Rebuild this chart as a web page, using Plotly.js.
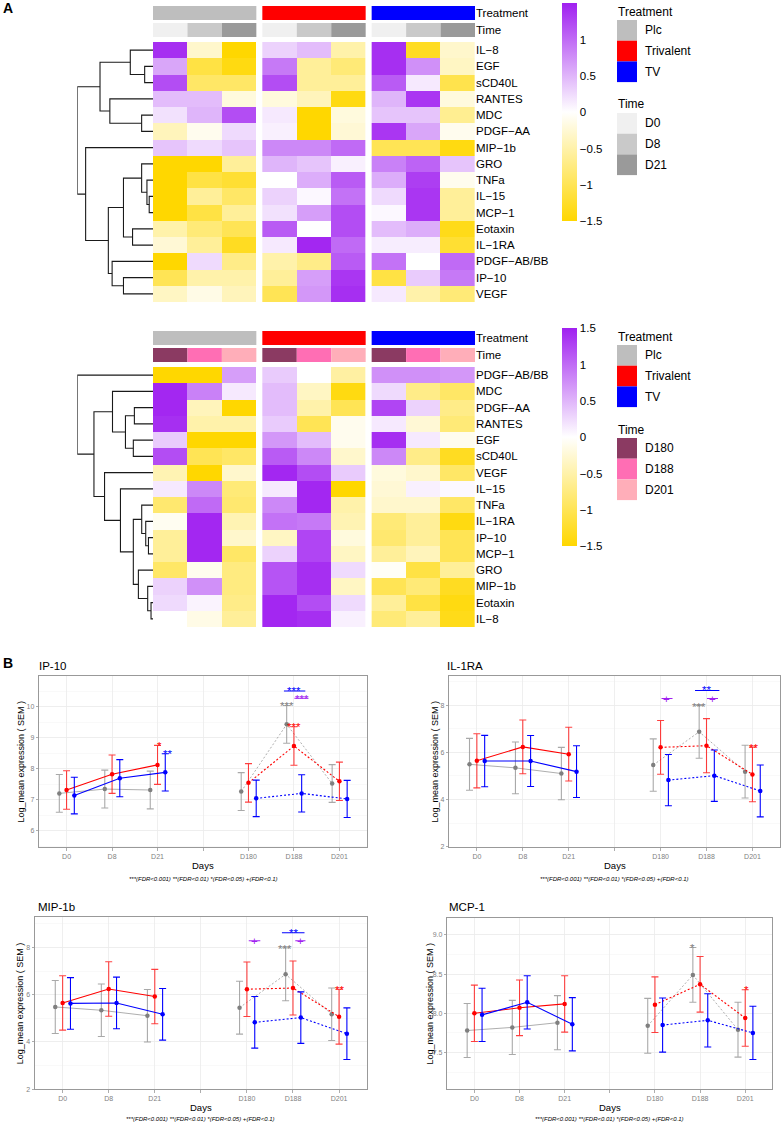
<!DOCTYPE html>
<html><head><meta charset="utf-8">
<script src="https://cdn.plot.ly/plotly-3.0.1.min.js"></script>
<style>html,body{margin:0;padding:0;background:#fff}#chart{width:781px;height:1124px}</style>
</head><body><div id="chart"></div>
<script>
// ================= DATA =================
// --- Panel A: heatmaps ---
const treatments = ['Plc', 'Trivalent', 'TV'];
const treatmentColors = ['#BEBEBE', '#FF0000', '#0000FF'];
const timesEarly = ['D0', 'D8', 'D21'];
const timeColorsEarly = ['#F0F0F0', '#C9C9C9', '#9A9A9A'];
const timesLate = ['D180', 'D188', 'D201'];
const timeColorsLate = ['#8B3A62', '#FF6EB4', '#FFAEB9'];
const colorbarTickVals = [-1.5, -1, -0.5, 0, 0.5, 1, 1.5];

const rowsEarly = ['IL−8','EGF','sCD40L','RANTES','MDC','PDGF−AA','MIP−1b','GRO','TNFa','IL−15','MCP−1','Eotaxin','IL−1RA','PDGF−AB/BB','IP−10','VEGF'];
// columns: Plc D0,D8,D21 | Trivalent D0,D8,D21 | TV D0,D8,D21
const zEarly = [
  [ 1.40,-0.30,-1.50,  0.30, 0.45,-0.50,  1.40,-1.30,-0.30],
  [ 0.60,-1.10,-1.40,  0.90,-0.60,-0.80,  1.40, 0.75,-0.35],
  [ 1.20,-0.90,-0.90,  1.20,-0.60,-0.60,  1.10, 0.15,-1.05],
  [ 0.45, 0.45,-0.20, -0.20,-0.40,-1.40,  0.50, 1.35,-0.20],
  [ 0.20, 0.50, 1.20,  0.15,-1.50,-0.20,  0.40, 0.40,-0.65],
  [-0.40,-0.10, 0.25,  0.10,-1.50,-0.25,  1.35, 0.60,-0.10],
  [ 0.40, 0.25, 0.40,  0.80, 0.80, 1.00, -1.00,-1.00,-1.40],
  [-1.50,-1.50,-0.60,  0.50, 0.40, 0.10,  0.85, 1.05, 0.40],
  [-1.50,-1.10,-1.20,  0.00, 0.55, 1.10,  0.55, 1.30,-0.10],
  [-1.50,-0.60,-0.90,  0.30, 0.05, 0.95,  0.25, 1.35,-0.60],
  [-1.50,-1.10,-0.60,  0.20, 0.65, 1.20,  0.05, 1.35,-0.60],
  [-0.50,-0.80,-1.00,  1.10, 0.00, 1.20,  0.45, 0.55,-1.35],
  [-0.25,-0.60,-1.30,  0.15, 1.45, 1.00,  0.12, 0.12,-1.20],
  [-1.50, 0.25,-0.70, -0.50,-0.70, 1.10,  0.95, 0.00, 1.00],
  [-1.00,-0.50,-0.50, -0.60, 0.65, 1.35, -1.10, 0.35, 0.90],
  [-0.35,-0.15,-0.40, -1.00, 0.70, 1.40,  0.15,-0.50,-0.80]
];
const treeEarly = [
  [ ['IL-8', ['EGF','sCD40L',0.11], 0.30], ['RANTES', ['MDC','PDGF-AA',0.15], 0.57], 0.70 ],
  ['MIP-1b', [ [ ['GRO', ['TNFa', ['IL-15','MCP-1',0.05], 0.08], 0.15], ['Eotaxin','IL-1RA',0.27], 0.39 ],
               ['PDGF-AB/BB', ['IP-10','VEGF',0.39], 0.54], 0.59 ], 0.89 ],
  1.0
];

const rowsLate = ['PDGF−AB/BB','MDC','PDGF−AA','RANTES','EGF','sCD40L','VEGF','IL−15','TNFa','IL−1RA','IP−10','MCP−1','GRO','MIP−1b','Eotaxin','IL−8'];
// columns: Plc D180,D188,D201 | Trivalent D180,D188,D201 | TV D180,D188,D201
const zLate = [
  [-1.50,-1.50, 0.65,  0.35, 0.00,-0.55,  0.75, 0.75, 0.70],
  [ 1.45, 0.85, 0.15,  0.45,-0.35,-1.40,  0.25,-0.70,-0.90],
  [ 1.45,-0.40,-1.50,  0.45,-0.50,-1.00,  1.25, 0.30,-0.70],
  [ 1.40,-0.50,-0.50,  0.35,-1.00,-0.10,  0.15,-0.25,-0.80],
  [ 0.35,-1.50,-1.50,  0.70, 0.45,-0.10,  1.40, 0.15,-0.10],
  [ 1.20,-1.00,-0.90,  1.10, 0.80,-0.30,  0.80,-0.70,-1.30],
  [-0.45,-1.50,-0.30,  1.45, 1.20, 0.35, -0.20,-0.30,-0.90],
  [ 0.15, 0.80,-0.80,  0.15, 1.45,-1.50, -0.25, 0.10, 0.05],
  [-0.85, 1.00,-0.85,  0.80, 1.45,-0.50, -0.30,-0.30,-0.90],
  [-0.08, 1.45,-0.45,  0.95, 0.90,-0.45, -0.80,-0.60,-1.40],
  [-0.60, 1.45,-0.30, -0.35, 1.25,-0.20, -0.85,-0.60,-1.00],
  [-0.60, 1.45,-0.90,  0.30, 1.25,-0.35, -0.60,-0.40,-1.00],
  [-0.90,-0.10,-0.75,  1.15, 1.40, 0.25, -0.05,-1.10,-0.60],
  [ 0.30, 0.75,-0.75,  1.15, 1.40,-0.35, -1.00,-0.80,-1.30],
  [ 0.25, 0.08,-0.70,  1.45, 1.20, 0.25, -0.60,-1.10,-1.40],
  [ 0.00,-0.15,-0.60,  1.45, 1.40, 0.10, -0.80,-0.60,-1.35]
];
const treeLate = [
  'PDGF-AB/BB',
  [ ['MDC', [ ['PDGF-AA','RANTES',0.246], ['EGF','sCD40L',0.26], 0.364 ], 0.535],
    ['VEGF', ['IL-15', [ ['TNFa', ['IL-1RA', ['IP-10','MCP-1',0.06], 0.096], 0.149],
                         ['GRO', ['MIP-1b', ['Eotaxin','IL-8',0.026], 0.07], 0.193], 0.26 ], 0.43], 0.64],
    0.78 ],
  1.0
];

// --- Panel B: line plots ---
const dayTickLabels = ['D0', 'D8', 'D21', '', 'D180', 'D188', 'D201'];
const groups = ['Plc', 'Trivalent', 'TV'];
const groupColors = ['#7F7F7F', '#FF0000', '#0000FF'];
const groupBarColors = ['rgba(140,140,140,0.75)', 'rgba(255,0,0,0.75)', '#0000FF'];
const caption = '***(FDR&lt;0.001) **(FDR&lt;0.01) *(FDR&lt;0.05) +(FDR&lt;0.1)';

// IP-10
const ip10_mean_Plc  = [7.20, 7.34, 7.31, 7.26, 9.43, 7.52];
const ip10_sem_Plc   = [0.61, 0.61, 0.61, 0.61, 0.61, 0.61];
const ip10_mean_Triv = [7.31, 7.82, 8.12, 7.54, 8.73, 7.59];
const ip10_sem_Triv  = [0.62, 0.62, 0.63, 0.62, 0.62, 0.62];
const ip10_mean_TV   = [7.13, 7.69, 7.88, 7.04, 7.20, 7.02];
const ip10_sem_TV    = [0.59, 0.60, 0.60, 0.59, 0.60, 0.60];
const ip10_yTicks = [6, 7, 8, 9, 10];
const ip10_yTickText = ['6', '7', '8', '9', '10'];
const ip10_sigText  = ['*', '**', '***', '***', '***', '***'];
const ip10_sigColor = ['#FF0000', '#0000FF', '#808080', '#FF0000', '#0000FF', '#A020F0'];
const ip10_sigX     = [3.04, 3.22, 5.85, 6.01, 6.01, 6.18];
const ip10_sigY     = [8.82, 8.57, 10.11, 9.43, 10.59, 10.34];
const ip10_barX0 = [5.78, 6.01], ip10_barX1 = [6.25, 6.32], ip10_barY = [10.505, 10.27], ip10_barColor = ['#0000FF', '#A020F0'];

// IL-1RA
const il1ra_mean_Plc  = [5.49, 5.34, 5.10, 5.46, 6.87, 5.18];
const il1ra_sem_Plc   = [1.10, 1.10, 1.11, 1.11, 1.12, 1.12];
const il1ra_mean_Triv = [5.64, 6.23, 5.92, 6.21, 6.28, 5.06];
const il1ra_sem_Triv  = [1.15, 1.14, 1.14, 1.14, 1.15, 1.16];
const il1ra_mean_TV   = [5.63, 5.63, 5.18, 4.82, 5.01, 4.36];
const il1ra_sem_TV    = [1.09, 1.08, 1.10, 1.09, 1.09, 1.10];
const il1ra_yTicks = [2, 4, 6, 8];
const il1ra_yTickText = ['2', '4', '6', '8'];
const il1ra_sigText  = ['+', '+', '***', '**', '**'];
const il1ra_sigColor = ['#A020F0', '#A020F0', '#808080', '#0000FF', '#FF0000'];
const il1ra_sigX     = [5.13, 6.13, 5.83, 6.01, 7.02];
const il1ra_sigY     = [8.28, 8.28, 8.07, 8.75, 6.33];
const il1ra_barX0 = [5.02, 6.01, 5.75], il1ra_barX1 = [5.26, 6.25, 6.28], il1ra_barY = [8.28, 8.28, 8.62], il1ra_barColor = ['#A020F0', '#A020F0', '#0000FF'];

// MIP-1b
const mip1b_mean_Plc  = [5.48, 5.34, 5.11, 5.45, 6.86, 5.17];
const mip1b_sem_Plc   = [1.12, 1.11, 1.11, 1.12, 1.12, 1.11];
const mip1b_mean_Triv = [5.65, 6.24, 5.92, 6.23, 6.28, 5.07];
const mip1b_sem_Triv  = [1.15, 1.15, 1.15, 1.15, 1.14, 1.16];
const mip1b_mean_TV   = [5.63, 5.65, 5.17, 4.83, 5.03, 4.35];
const mip1b_sem_TV    = [1.09, 1.09, 1.09, 1.09, 1.09, 1.09];
const mip1b_yTicks = [2, 4, 6, 8];
const mip1b_yTickText = ['2', '4', '6', '8'];
const mip1b_sigText  = ['+', '+', '***', '**', '**'];
const mip1b_sigColor = ['#A020F0', '#A020F0', '#808080', '#0000FF', '#FF0000'];
const mip1b_sigX     = [5.17, 6.16, 5.83, 6.01, 7.01];
const mip1b_sigY     = [8.28, 8.28, 8.07, 8.73, 6.31];
const mip1b_barX0 = [5.04, 6.05, 5.76], mip1b_barX1 = [5.29, 6.27, 6.25], mip1b_barY = [8.28, 8.28, 8.62], mip1b_barColor = ['#A020F0', '#A020F0', '#0000FF'];

// MCP-1
const mcp1_mean_Plc  = [7.78, 7.82, 7.88, 7.84, 8.49, 7.79];
const mcp1_sem_Plc   = [0.345, 0.345, 0.345, 0.35, 0.35, 0.35];
const mcp1_mean_Triv = [8.00, 8.07, 8.12, 8.11, 8.37, 7.94];
const mcp1_sem_Triv  = [0.36, 0.355, 0.36, 0.355, 0.355, 0.36];
const mcp1_mean_TV   = [7.98, 8.14, 7.86, 7.85, 7.91, 7.75];
const mcp1_sem_TV    = [0.34, 0.34, 0.34, 0.345, 0.34, 0.34];
const mcp1_yTicks = [7.5, 8.0, 8.5, 9.0];
const mcp1_yTickText = ['7.5', '8.0', '8.5', '9.0'];
const mcp1_sigText  = ['*', '*'];
const mcp1_sigColor = ['#808080', '#FF0000'];
const mcp1_sigX     = [5.83, 7.02];
const mcp1_sigY     = [8.87, 8.34];
const mcp1_barX0 = [], mcp1_barX1 = [], mcp1_barY = [], mcp1_barColor = [];

// ================= DRAWING =================
const W = 781, H = 1124;
const PX = x => x / W, PY = y => 1 - y / H;
const FONT = 'Liberation Sans, Arial, Helvetica, sans-serif';
const data = [], shapes = [], annotations = [];
const layout = {
  width: W, height: H, margin: {l: 0, r: 0, t: 0, b: 0},
  paper_bgcolor: '#FFFFFF', plot_bgcolor: 'rgba(0,0,0,0)',
  showlegend: false, font: {family: FONT, color: '#000'}
};
const colorscale = [[0, '#FFD700'], [0.5, '#FFFFFF'], [1, '#A020F0']];
const norm = s => s.replace(/−/g, '-');

function buildHeatmap(k, rows, z, tree, timeLabels, timeColors, topPx) {
  const xh = k === 0 ? 'x' : 'x3', xd = k === 0 ? 'x2' : 'x4', ya = k === 0 ? 'y' : 'y2';
  const xhL = k === 0 ? 'xaxis' : 'xaxis3', xdL = k === 0 ? 'xaxis2' : 'xaxis4', yaL = k === 0 ? 'yaxis' : 'yaxis2';
  const gap = 0.174, rowH = 16.25, rowStart = topPx + 36, bottomPx = topPx + 296;
  const u = px => (px - rowStart) / rowH - 0.5;
  const blockX = b => [0, 1, 2].map(c => b * (3 + gap) + c);
  layout[xhL] = {domain: [PX(153), PX(475)], range: [-0.5, 2 * (3 + gap) + 2.5], visible: false, fixedrange: true};
  layout[xdL] = {domain: [PX(77.3), PX(153)], range: [1, 0], visible: false, fixedrange: true};
  const tBar = [u(topPx), u(topPx + 14)], tmBar = [u(topPx + 17), u(topPx + 31)];
  layout[yaL] = {
    domain: [PY(bottomPx), PY(topPx)], range: [u(bottomPx), u(topPx)], anchor: xh, side: 'right',
    tickvals: [(tBar[0] + tBar[1]) / 2, (tmBar[0] + tmBar[1]) / 2].concat(rows.map((_, i) => i)),
    ticktext: ['Treatment', 'Time'].concat(rows),
    ticks: '', ticklen: 0, showgrid: false, zeroline: false, showline: false, fixedrange: true,
    tickfont: {size: 11.5, color: '#000', family: FONT}
  };
  for (let b = 0; b < 3; b++) {
    data.push({
      type: 'heatmap', x: blockX(b), y: rows.map((_, i) => i), z: z.map(r => r.slice(3 * b, 3 * b + 3)),
      zmin: -1.5, zmax: 1.5, colorscale: colorscale, xaxis: xh, yaxis: ya, hoverinfo: 'skip',
      showscale: b === 0,
      colorbar: {
        x: PX(562), xanchor: 'left', y: PY(topPx - 2.7), yanchor: 'top',
        len: 217.7, lenmode: 'pixels', thickness: 15, thicknessmode: 'pixels',
        xpad: 0, ypad: 0, outlinewidth: 0, ticks: '', ticklen: 0,
        tickvals: colorbarTickVals,
        tickfont: {size: 11.5, color: '#000', family: FONT}
      }
    });
    const xs = blockX(b);
    shapes.push({type: 'rect', xref: xh, yref: ya, x0: xs[0] - 0.5, x1: xs[2] + 0.5, y0: tBar[0], y1: tBar[1],
      fillcolor: treatmentColors[b], line: {width: 0}});
    for (let c = 0; c < 3; c++) {
      shapes.push({type: 'rect', xref: xh, yref: ya, x0: xs[c] - 0.5, x1: xs[c] + 0.5, y0: tmBar[0], y1: tmBar[1],
        fillcolor: timeColors[c], line: {width: 0}});
    }
  }
  const dx = [], dy = [];
  const walk = node => {
    if (typeof node === 'string') return {y: rows.findIndex(r => norm(r) === node), h: 0};
    const L = walk(node[0]), R = walk(node[1]), h = node[2];
    dx.push(L.h, h, h, R.h, null); dy.push(L.y, L.y, R.y, R.y, null);
    return {y: (L.y + R.y) / 2, h: h};
  };
  walk(tree);
  data.push({type: 'scatter', mode: 'lines', x: dx, y: dy, xaxis: xd, yaxis: ya, hoverinfo: 'skip',
    line: {color: '#1A1A1A', width: 1.1}});
  const lx0 = 617, lx1 = 637, lblX = 643;
  const legendBlock = (title, labels, colors, titleY, boxTop) => {
    annotations.push({xref: 'paper', yref: 'paper', x: PX(lx0 - 1), y: PY(titleY), xanchor: 'left', yanchor: 'middle',
      text: title, showarrow: false, font: {size: 12, color: '#000', family: FONT}});
    labels.forEach((lab, i) => {
      const t = boxTop + i * 20.7;
      shapes.push({type: 'rect', xref: 'paper', yref: 'paper', x0: PX(lx0), x1: PX(lx1), y0: PY(t), y1: PY(t + 20.7),
        fillcolor: colors[i], line: {width: 0}});
      annotations.push({xref: 'paper', yref: 'paper', x: PX(lblX), y: PY(t + 10.35), xanchor: 'left', yanchor: 'middle',
        text: lab, showarrow: false, font: {size: 12, color: '#000', family: FONT}});
    });
  };
  legendBlock('Treatment', treatments, treatmentColors, topPx + 5.5, topPx + 14);
  legendBlock('Time', timeLabels, timeColors, topPx + 98.5, topPx + 107);
}
buildHeatmap(0, rowsEarly, zEarly, treeEarly, timesEarly, timeColorsEarly, 6);
buildHeatmap(1, rowsLate, zLate, treeLate, timesLate, timeColorsLate, 331);

annotations.push({xref: 'paper', yref: 'paper', x: PX(1), y: PY(7.5), xanchor: 'left', yanchor: 'middle',
  text: '<b>A</b>', showarrow: false, font: {size: 14, color: '#000', family: FONT}});
annotations.push({xref: 'paper', yref: 'paper', x: PX(1), y: PY(663), xanchor: 'left', yanchor: 'middle',
  text: '<b>B</b>', showarrow: false, font: {size: 14, color: '#000', family: FONT}});

const panels = [
  {name: 'IP-10', means: [ip10_mean_Plc, ip10_mean_Triv, ip10_mean_TV], sems: [ip10_sem_Plc, ip10_sem_Triv, ip10_sem_TV],
   yTicks: ip10_yTicks, yTickText: ip10_yTickText, sigText: ip10_sigText, sigColor: ip10_sigColor, sigX: ip10_sigX, sigY: ip10_sigY,
   barX0: ip10_barX0, barX1: ip10_barX1, barY: ip10_barY, barColor: ip10_barColor,
   box: {l: 39.3, r: 366.7, t: 675.7, b: 847.3}, yr: [5.46, 11.0], minor: 0.5, titleX: 36.7, titleY: 665.5, ytX: 20, daysY: 865, capY: 878.5},
  {name: 'IL-1RA', means: [il1ra_mean_Plc, il1ra_mean_Triv, il1ra_mean_TV], sems: [il1ra_sem_Plc, il1ra_sem_Triv, il1ra_sem_TV],
   yTicks: il1ra_yTicks, yTickText: il1ra_yTickText, sigText: il1ra_sigText, sigColor: il1ra_sigColor, sigX: il1ra_sigX, sigY: il1ra_sigY,
   barX0: il1ra_barX0, barX1: il1ra_barX1, barY: il1ra_barY, barColor: il1ra_barColor,
   box: {l: 449.3, r: 780, t: 675.7, b: 847.3}, yr: [1.97, 9.25], minor: 1, titleX: 445, titleY: 666, ytX: 434, daysY: 865, capY: 878.5},
  {name: 'MIP-1b', means: [mip1b_mean_Plc, mip1b_mean_Triv, mip1b_mean_TV], sems: [mip1b_sem_Plc, mip1b_sem_Triv, mip1b_sem_TV],
   yTicks: mip1b_yTicks, yTickText: mip1b_yTickText, sigText: mip1b_sigText, sigColor: mip1b_sigColor, sigX: mip1b_sigX, sigY: mip1b_sigY,
   barX0: mip1b_barX0, barX1: mip1b_barX1, barY: mip1b_barY, barColor: mip1b_barColor,
   box: {l: 35, r: 366.7, t: 917.3, b: 1089.3}, yr: [2.0, 9.27], minor: 1, titleX: 36, titleY: 906.7, ytX: 20, daysY: 1107.7, capY: 1119.3},
  {name: 'MCP-1', means: [mcp1_mean_Plc, mcp1_mean_Triv, mcp1_mean_TV], sems: [mcp1_sem_Plc, mcp1_sem_Triv, mcp1_sem_TV],
   yTicks: mcp1_yTicks, yTickText: mcp1_yTickText, sigText: mcp1_sigText, sigColor: mcp1_sigColor, sigX: mcp1_sigX, sigY: mcp1_sigY,
   barX0: mcp1_barX0, barX1: mcp1_barX1, barY: mcp1_barY, barColor: mcp1_barColor,
   box: {l: 447.3, r: 772.3, t: 917.7, b: 1089.3}, yr: [7.03, 9.22], minor: 0.25, titleX: 447, titleY: 906.7, ytX: 429, daysY: 1107.7, capY: 1119.3}
];
const dodge = [-0.16, 0, 0.17];
const dayPos = dayTickLabels.map((d, i) => ({d, p: i + 1})).filter(o => o.d !== '').map(o => o.p);

panels.forEach((P, k) => {
  const xn = 'x' + (k + 5), yn = 'y' + (k + 3);
  const xL = 'xaxis' + (k + 5), yL = 'yaxis' + (k + 3);
  const B = P.box;
  layout[xL] = {
    domain: [PX(B.l), PX(B.r)], range: [0.4, 7.6], anchor: yn,
    tickvals: dayTickLabels.map((_, i) => i + 1), ticktext: dayTickLabels,
    ticks: 'outside', ticklen: 2.5, tickwidth: 0.8, tickcolor: '#999999',
    tickfont: {size: 7, color: '#7F7F7F', family: FONT},
    showgrid: true, gridcolor: '#EBEBEB', gridwidth: 0.8, zeroline: false,
    showline: true, mirror: true, linecolor: '#999999', linewidth: 1, fixedrange: true
  };
  layout[yL] = {
    domain: [PY(B.b), PY(B.t)], range: P.yr, anchor: xn,
    tickvals: P.yTicks, ticktext: P.yTickText,
    ticks: 'outside', ticklen: 2.5, tickwidth: 0.8, tickcolor: '#999999',
    tickfont: {size: 7, color: '#7F7F7F', family: FONT},
    showgrid: true, gridcolor: '#EBEBEB', gridwidth: 0.8, zeroline: false,
    minor: {dtick: P.minor, tick0: 0, showgrid: true, gridcolor: '#F5F5F5', gridwidth: 0.6, ticks: ''},
    showline: true, mirror: true, linecolor: '#999999', linewidth: 1, fixedrange: true
  };
  for (let g = 0; g < 3; g++) {
    [[0, 3, 'solid'], [3, 6, '2px,2px']].forEach(([a, e, dash]) => {
      data.push({
        type: 'scatter', mode: 'lines+markers', xaxis: xn, yaxis: yn, hoverinfo: 'skip',
        x: dayPos.slice(a, e).map(p => p + dodge[g]), y: P.means[g].slice(a, e),
        error_y: {type: 'data', array: P.sems[g].slice(a, e), visible: true, color: groupBarColors[g], thickness: 1.1, width: 3.5},
        line: {color: g === 0 ? '#999999' : groupColors[g], width: g === 0 ? 0.8 : 1.1, dash: dash},
        marker: {color: groupColors[g], size: 4.5}
      });
    });
  }
  P.barY.forEach((yv, i) => {
    shapes.push({type: 'line', xref: xn, yref: yn, x0: P.barX0[i], x1: P.barX1[i], y0: yv, y1: yv,
      line: {color: P.barColor[i], width: 1.1}});
  });
  P.sigText.forEach((t, i) => {
    annotations.push({xref: xn, yref: yn, x: P.sigX[i], y: P.sigY[i], text: t, showarrow: false,
      xanchor: 'center', yanchor: 'middle', yshift: t.indexOf('*') >= 0 ? -3 : 0,
      font: {size: 11.5, color: P.sigColor[i], family: FONT}});
  });
  const cx = (B.l + B.r) / 2;
  annotations.push({xref: 'paper', yref: 'paper', x: PX(P.titleX), y: PY(P.titleY), xanchor: 'left', yanchor: 'middle',
    text: P.name, showarrow: false, font: {size: 11.5, color: '#000', family: FONT}});
  annotations.push({xref: 'paper', yref: 'paper', x: PX(P.ytX), y: PY((B.t + B.b) / 2), xanchor: 'center', yanchor: 'middle',
    text: 'Log_mean expression ( SEM )', textangle: -90, showarrow: false, font: {size: 9, color: '#000', family: FONT}});
  annotations.push({xref: 'paper', yref: 'paper', x: PX(cx), y: PY(P.daysY), xanchor: 'center', yanchor: 'middle',
    text: 'Days', showarrow: false, font: {size: 9.5, color: '#000', family: FONT}});
  annotations.push({xref: 'paper', yref: 'paper', x: PX(cx), y: PY(P.capY), xanchor: 'center', yanchor: 'middle',
    text: '<i>' + caption + '</i>', showarrow: false, font: {size: 6, color: '#000', family: FONT}});
});

layout.shapes = shapes;
layout.annotations = annotations;
Plotly.newPlot('chart', data, layout, {staticPlot: true, displayModeBar: false});
</script>
</body></html>
